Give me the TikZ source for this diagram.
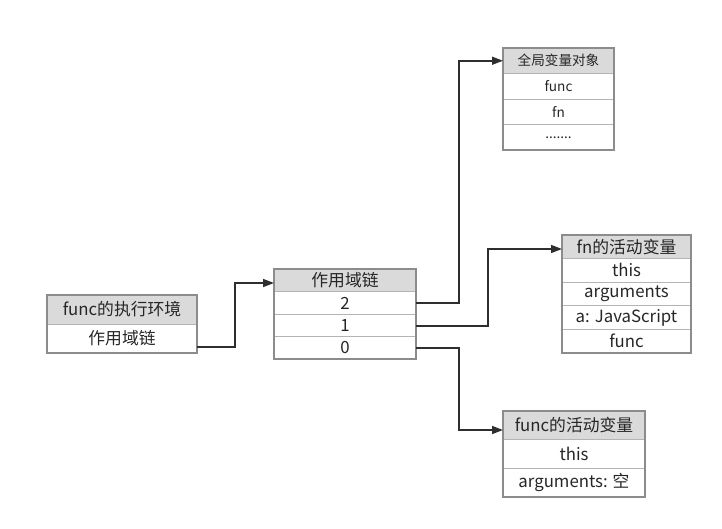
\documentclass[tikz,border=0pt]{standalone}
\usepackage{fontspec}
\setmainfont{Noto Sans CJK SC}
\usetikzlibrary{arrows.meta}
\definecolor{hdr}{HTML}{DADADA}
\definecolor{brd}{HTML}{8C8C8C}
\definecolor{inr}{HTML}{B4B4B4}
\definecolor{lnk}{HTML}{2E2E2E}
\begin{document}
\begin{tikzpicture}[x=1pt,y=-1pt,
  cell/.style={rectangle,draw=inr,line width=0.8pt,inner sep=0pt,outer sep=0pt,
    text=black!85,font=\fontsize{16.8}{17}\selectfont,anchor=center},
  head/.style={cell,fill=hdr},
  small/.style={font=\fontsize{13.6}{14}\selectfont},
  outer/.style={draw=brd,line width=1.8pt},
  conn/.style={draw=lnk,line width=1.5pt,-{Triangle[length=11pt,width=8pt]}}]
\useasboundingbox (0,0) rectangle (722,528);
% Box A
\node[head,minimum width=150pt,minimum height=29pt] (Ah) at (122,309.5) {func的执行环境};
\node[cell,minimum width=150pt,minimum height=29pt] (Ar) at (122,338.5) {作用域链};
\draw[outer] (Ah.north west) rectangle (Ar.south east);
% Box B
\node[head,minimum width=142pt,minimum height=22.5pt] (Bh) at (345,280.5) {作用域链};
\node[cell,minimum width=142pt,minimum height=22.5pt] (B2) at (345,303) {2};
\node[cell,minimum width=142pt,minimum height=22.5pt] (B1) at (345,325.5) {1};
\node[cell,minimum width=142pt,minimum height=22.5pt] (B0) at (345,348) {0};
\draw[outer] (Bh.north west) rectangle (B0.south east);
% Box C
\node[head,small,minimum width=111pt,minimum height=25.5pt] (Ch) at (558.5,60.75) {全局变量对象};
\node[cell,small,minimum width=111pt,minimum height=25.5pt] (C1) at (558.5,86.25) {func};
\node[cell,small,minimum width=111pt,minimum height=25.5pt] (C2) at (558.5,111.75) {fn};
\node[cell,small,minimum width=111pt,minimum height=25.5pt] (C3) at (558.5,137.25) {.......};
\draw[outer] (Ch.north west) rectangle (C3.south east);
% Box D
\node[head,minimum width=129pt,minimum height=23.6pt] (Dh) at (626.5,246.8) {fn的活动变量};
\node[cell,minimum width=129pt,minimum height=23.6pt] (D1) at (626.5,270.4) {this};
\node[cell,minimum width=129pt,minimum height=23.6pt] (D2) at (626.5,294.0) {arguments};
\node[cell,minimum width=129pt,minimum height=23.6pt] (D3) at (626.5,317.6) {a: JavaScript};
\node[cell,minimum width=129pt,minimum height=23.6pt] (D4) at (626.5,341.2) {func};
\draw[outer] (Dh.north west) rectangle (D4.south east);
% Box E
\node[head,minimum width=142pt,minimum height=28.7pt] (Eh) at (574,425.3) {func的活动变量};
\node[cell,minimum width=142pt,minimum height=28.7pt] (E1) at (574,454) {this};
\node[cell,minimum width=142pt,minimum height=28.7pt] (E2) at (574,482.7) {arguments: 空};
\draw[outer] (Eh.north west) rectangle (E2.south east);
% connectors
\draw[conn] ([yshift=-8.5pt]Ar.east) -| (235,283) -- ([yshift=-2.5pt]Bh.west);
\draw[conn] (B2.east) -| (459,60.75) -- (Ch.west);
\draw[conn] ([yshift=-0.5pt]B1.east) -| (488,249) -- ([yshift=-2.2pt]Dh.west);
\draw[conn] (B0.east) -| (459,430) -- ([yshift=-4.7pt]Eh.west);
\end{tikzpicture}
\end{document}
